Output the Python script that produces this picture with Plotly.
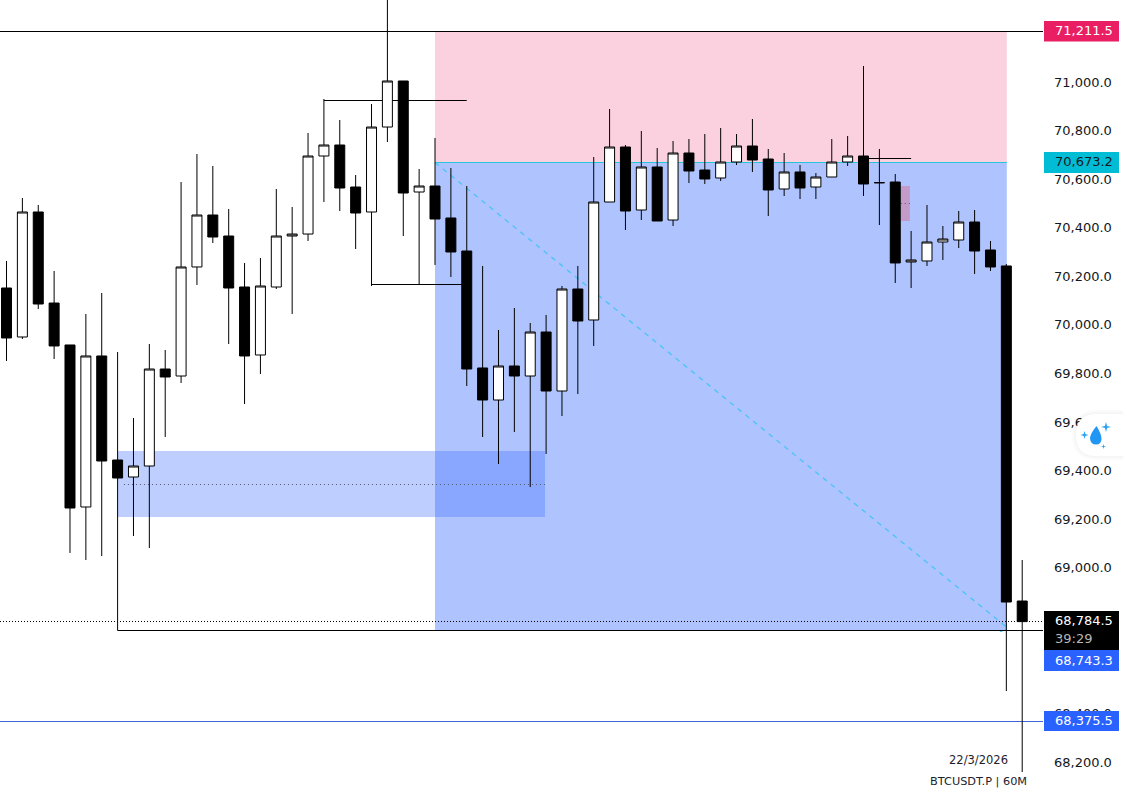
import plotly.graph_objects as go

# ---- data (USDT prices) ----
bar_highs = [70263,70522.3,70493.5,70221.8,69917.1,70044.7,70131.1,69888.2,69616.4,69921.2,69896.5,70588.2,70703.5,70654.1,70477,70254.8,70275.3,70559.4,70485.2,70790,70929.9,70843.5,70617,70909.4,71400,71004.1,70641.7,70769.4,70645.8,70571.7,70242.4,69978.8,70069.4,70007.6,70040.6,70160,70242.4,70691.1,70888.8,70740.5,70798.2,70728.2,70757,70765.2,70785.8,70810.5,70785.8,70847.6,70724.1,70707.6,70658.2,70625.2,70765.2,70777.6,71065.8,70724.1,70621.1,70386.4,70493.5,70407,70468.8,70472.9,70345.2,70250.6,69031.8]
body_tops = [70151.7,70464.7,70464.7,70089.9,69917.1,69871.8,69871.8,69443.5,69418.8,69818.2,69818.2,70238.3,70452.3,70452.3,70365.8,70155.8,70160,70365.8,70374,70695.2,70740.5,70740.5,70567.6,70814.6,71004.1,71004.1,70571.7,70571.7,70440,70304.1,69822.4,69830.6,69830.6,69970.5,69970.5,70147.6,70147.6,70505.8,70732.3,70732.3,70650,70650,70707.6,70707.6,70637.6,70670.5,70736.4,70736.4,70682.9,70629.4,70629.4,70608.8,70670.5,70695.2,70695.2,70586,70588.2,70267.1,70341.1,70353.5,70423.5,70423.5,70308.2,70242.4,68862.8]
body_bottoms = [69945.9,69950,70085.8,69913,69245.8,69250,69439.4,69369.4,69373.5,69418.8,69785.3,69789.4,70238.3,70361.7,70151.7,69871.8,69875.9,70155.8,70365.8,70374,70695.2,70563.5,70460.5,70464.7,70814.6,70542.9,70547,70435.8,70300,69818.2,69690.5,69690.5,69789.4,69789.4,69727.6,69727.6,70015.8,70020,70505.8,70468.8,70472.9,70427.6,70431.7,70633.5,70600.6,70604.7,70670.5,70678.8,70555.3,70559.4,70563.5,70567.6,70608.8,70670.5,70580,70585,70254.8,70258.9,70263,70341.1,70349.4,70304.1,70238.3,68858.7,68778]
bar_lows = [69851.2,69941.8,70065.2,69859.4,69060.6,69031.8,69048.3,69031.8,69130.6,69081.2,69538.2,69760.6,70164.1,70337,69921.2,69674,69797.7,70147.6,70044.7,70345.2,70505.8,70468.8,70312.3,70160,70752.9,70365.8,70168.2,70246.5,70197,69748.2,69538.2,69427,69558.8,69332.1,69468.2,69624.6,69715.2,69913,70505.8,70390.5,70431.7,70427.6,70407,70584.1,70580,70592.3,70658.2,70629.4,70448.2,70530.5,70518.2,70518.2,70608.8,70654.1,70530.5,70411.1,70172.3,70151.7,70242.4,70267.1,70316.4,70209.5,70221.8,68492.2,68158.7]
up_flags = [0,1,0,0,0,1,0,0,1,1,0,1,1,0,0,0,1,1,1,1,1,0,0,1,1,0,1,0,0,0,0,1,0,1,0,1,0,1,1,0,1,0,1,0,0,1,1,0,0,1,0,1,1,1,0,0,0,1,1,1,1,0,0,0,0]

price_ticks = [71000,70800,70600,70400,70200,70000,69800,69600,69400,69200,69000,68800,68600,68400,68200]
target_price = 71211.5
entry_price = 70673.2
last_price = 68784.5
stop_price = 68743.3
low_price = 68375.5
timer_text = "39:29"
date_text = "22/3/2026"
symbol_text = "BTCUSDT.P | 60M"

# drawn levels as they sit on the picture
target_line = 71207.9
entry_line = 70668.5
last_line = 68778.5
stop_line = 68741.4
low_line = 68366.7
upper_swing = 70923.8
lower_swing = 70166.1
late_swing = 70684.9
demand_top, demand_mid, demand_bottom = 69480.5, 69342.6, 69208.8
supply_top, supply_mid, supply_bottom = 70571.7, 70499.6, 70427.6

# ---- derived ----
indices = list(range(len(bar_highs)))
opens = [b if u else t for t, b, u in zip(body_tops, body_bottoms, up_flags)]
closes = [t if u else b for t, b, u in zip(body_tops, body_bottoms, up_flags)]

W, H = 1123, 801
PLOT_W = 1043
Y_RANGE = [68039.4, 71337.6]
X_RANGE = [-0.41, 65.31]

def px(v):
    return v / PLOT_W

def py(v):
    return 1 - v / H

fig = go.Figure()
fig.add_trace(go.Candlestick(
    x=indices, open=opens, high=bar_highs, low=bar_lows, close=closes,
    increasing=dict(line=dict(color="#000000", width=1), fillcolor="#ffffff"),
    decreasing=dict(line=dict(color="#000000", width=1), fillcolor="#000000"),
    whiskerwidth=0, showlegend=False, hoverinfo="skip",
))

shapes = []
def rect(x0, x1, y0, y1, color, layer="below"):
    shapes.append(dict(type="rect", xref="x", yref="y", x0=x0, x1=x1, y0=y0, y1=y1,
                       fillcolor=color, line_width=0, layer=layer))
def seg(x0, x1, y0, y1, color="#000000", width=1, dash="solid", layer="below"):
    shapes.append(dict(type="line", xref="x", yref="y", x0=x0, x1=x1, y0=y0, y1=y1,
                       line=dict(color=color, width=width, dash=dash), layer=layer))

# position tool
rect(27, 63.03, entry_line, target_line, "#fbd1e0")
rect(27, 63.03, stop_line, entry_line, "#afc4ff")
# demand zone
rect(7, 33.93, demand_bottom, demand_top, "rgba(66,115,255,0.35)")
seg(7.4, 33.93, demand_mid, demand_mid, "#50577a", 1, "1px,3px")
# small supply zone
rect(56.35, 56.92, supply_bottom, supply_top, "#c49ac8")
seg(56.35, 57.05, supply_mid, supply_mid, "#50577a", 1, "1px,3px")
# position lines
seg(27, 63.03, entry_line, entry_line, "#26c6da", 1)
seg(27, 63, entry_line, stop_line + 15, "#4fc3f7", 1.4, "5px,5px")
seg(62.6, 63, stop_line - 5, stop_line + 3, "#4fc3f7", 1)
seg(63, 63, stop_line + 3, stop_line + 28, "#4fc3f7", 1)
# horizontal levels
seg(X_RANGE[0], X_RANGE[1], target_line, target_line, "#000000", 1)
seg(X_RANGE[0], X_RANGE[1], last_line, last_line, "#000000", 1, "1px,2px")
seg(X_RANGE[0], X_RANGE[1], low_line, low_line, "#3f63d8", 1)
# swing brackets
seg(7, 7, stop_line, 69031.8)
seg(7, X_RANGE[1], stop_line, stop_line)
seg(20, 29, upper_swing, upper_swing)
seg(23, 29, lower_swing, lower_swing)
seg(54, 57, late_swing, late_swing)

# price tags
def tag(color, low, high):
    shapes.append(dict(type="rect", xref="paper", yref="y", x0=px(1044), x1=px(1119),
                       y0=low, y1=high, fillcolor=color, line_width=0, layer="above"))

# water drop pill
def poly(points, fill):
    d = "M " + " L ".join(f"{px(a)} {py(b)}" for a, b in points) + " Z"
    shapes.append(dict(type="path", xref="paper", yref="paper", path=d,
                       fillcolor=fill, line_width=0, layer="above"))

def pill(x_left, y_top, y_bot, fill):
    r = (y_bot - y_top) / 2
    d = (f"M {px(1130)} {py(y_top)} L {px(x_left + r)} {py(y_top)} "
         f"Q {px(x_left)} {py(y_top)} {px(x_left)} {py(y_top + r)} "
         f"Q {px(x_left)} {py(y_bot)} {px(x_left + r)} {py(y_bot)} L {px(1130)} {py(y_bot)} Z")
    shapes.append(dict(type="path", xref="paper", yref="paper", path=d,
                       fillcolor=fill, line_width=0, layer="above"))

pill(1072, 410, 460, "rgba(0,0,0,0.015)")
pill(1074, 412, 458, "rgba(0,0,0,0.02)")
pill(1076, 414, 456, "#ffffff")

def star(cx, cy, r, fill):
    i = r * 0.22
    poly([(cx, cy - r), (cx + i, cy - i), (cx + r, cy), (cx + i, cy + i),
          (cx, cy + r), (cx - i, cy + i), (cx - r, cy), (cx - i, cy - i)], fill)

shapes.append(dict(type="path", xref="paper", yref="paper",
    path=(f"M {px(1096.5)} {py(426)} Q {px(1090)} {py(434)} {px(1090)} {py(438.5)} "
          f"Q {px(1090.5)} {py(444.5)} {px(1096)} {py(444.5)} "
          f"Q {px(1101.5)} {py(444.5)} {px(1101.5)} {py(438.5)} "
          f"Q {px(1101)} {py(433)} {px(1096.5)} {py(426)} Z"),
    fillcolor="#2196f3", line_width=0, layer="above"))
star(1084.5, 435, 4, "#2ca3f5")
star(1106, 427, 5, "#2ca3f5")
star(1103.5, 446.5, 2.5, "#2ca3f5")

tag("#e91e63", 71167, 71251)
tag("#00bcd4", 70625, 70712)
tag("#000000", 68661.1, 68821.7)
tag("#2962ff", 68574.7, 68661.1)
tag("#2962ff", 68327.6, 68409.9)

anns = []
def tag_text(price, color, text=None, yshift=0):
    anns.append(dict(xref="paper", yref="y", x=px(1052.5), y=price, xanchor="left", yanchor="middle",
                     text=text or f"{price:,.1f}", showarrow=False, yshift=yshift,
                     font=dict(family="DejaVu Sans", size=13, color=color)))

tag_text(target_price, "#ffffff", yshift=0)
tag_text(entry_price, "#131722")
tag_text(last_price, "#ffffff")
tag_text(last_price, "#b8b8b8", text=timer_text, yshift=-18)
tag_text(stop_price, "#ffffff", yshift=-30)
tag_text(low_price, "#ffffff", yshift=-1)
anns.append(dict(xref="paper", yref="paper", x=px(1010), y=py(760), xanchor="right", yanchor="middle",
                 text=date_text, showarrow=False, font=dict(family="DejaVu Sans", size=11.5, color="#1e222d")))
anns.append(dict(xref="paper", yref="paper", x=px(1029), y=py(781), xanchor="right", yanchor="middle",
                 text=symbol_text, showarrow=False, font=dict(family="DejaVu Sans", size=11.3, color="#1e222d")))

fig.update_layout(
    width=W, height=H, margin=dict(l=0, r=W - PLOT_W, t=0, b=0),
    paper_bgcolor="#ffffff", plot_bgcolor="#ffffff", showlegend=False,
    boxgap=0.37, boxgroupgap=0, shapes=shapes, annotations=anns,
    xaxis=dict(range=X_RANGE, visible=False, rangeslider=dict(visible=False), fixedrange=True),
    yaxis=dict(range=Y_RANGE, side="right", showgrid=False, zeroline=False, showline=False,
               tickmode="array", tickvals=price_ticks, tickformat=",.1f", ticks="",
               ticklabelstandoff=10, tickfont=dict(family="DejaVu Sans", size=13, color="#131722"),
               fixedrange=True),
)
fig.write_html("out.html", config=dict(displayModeBar=False),
               post_script="document.body.style.margin='0';document.body.style.overflow='hidden';")
